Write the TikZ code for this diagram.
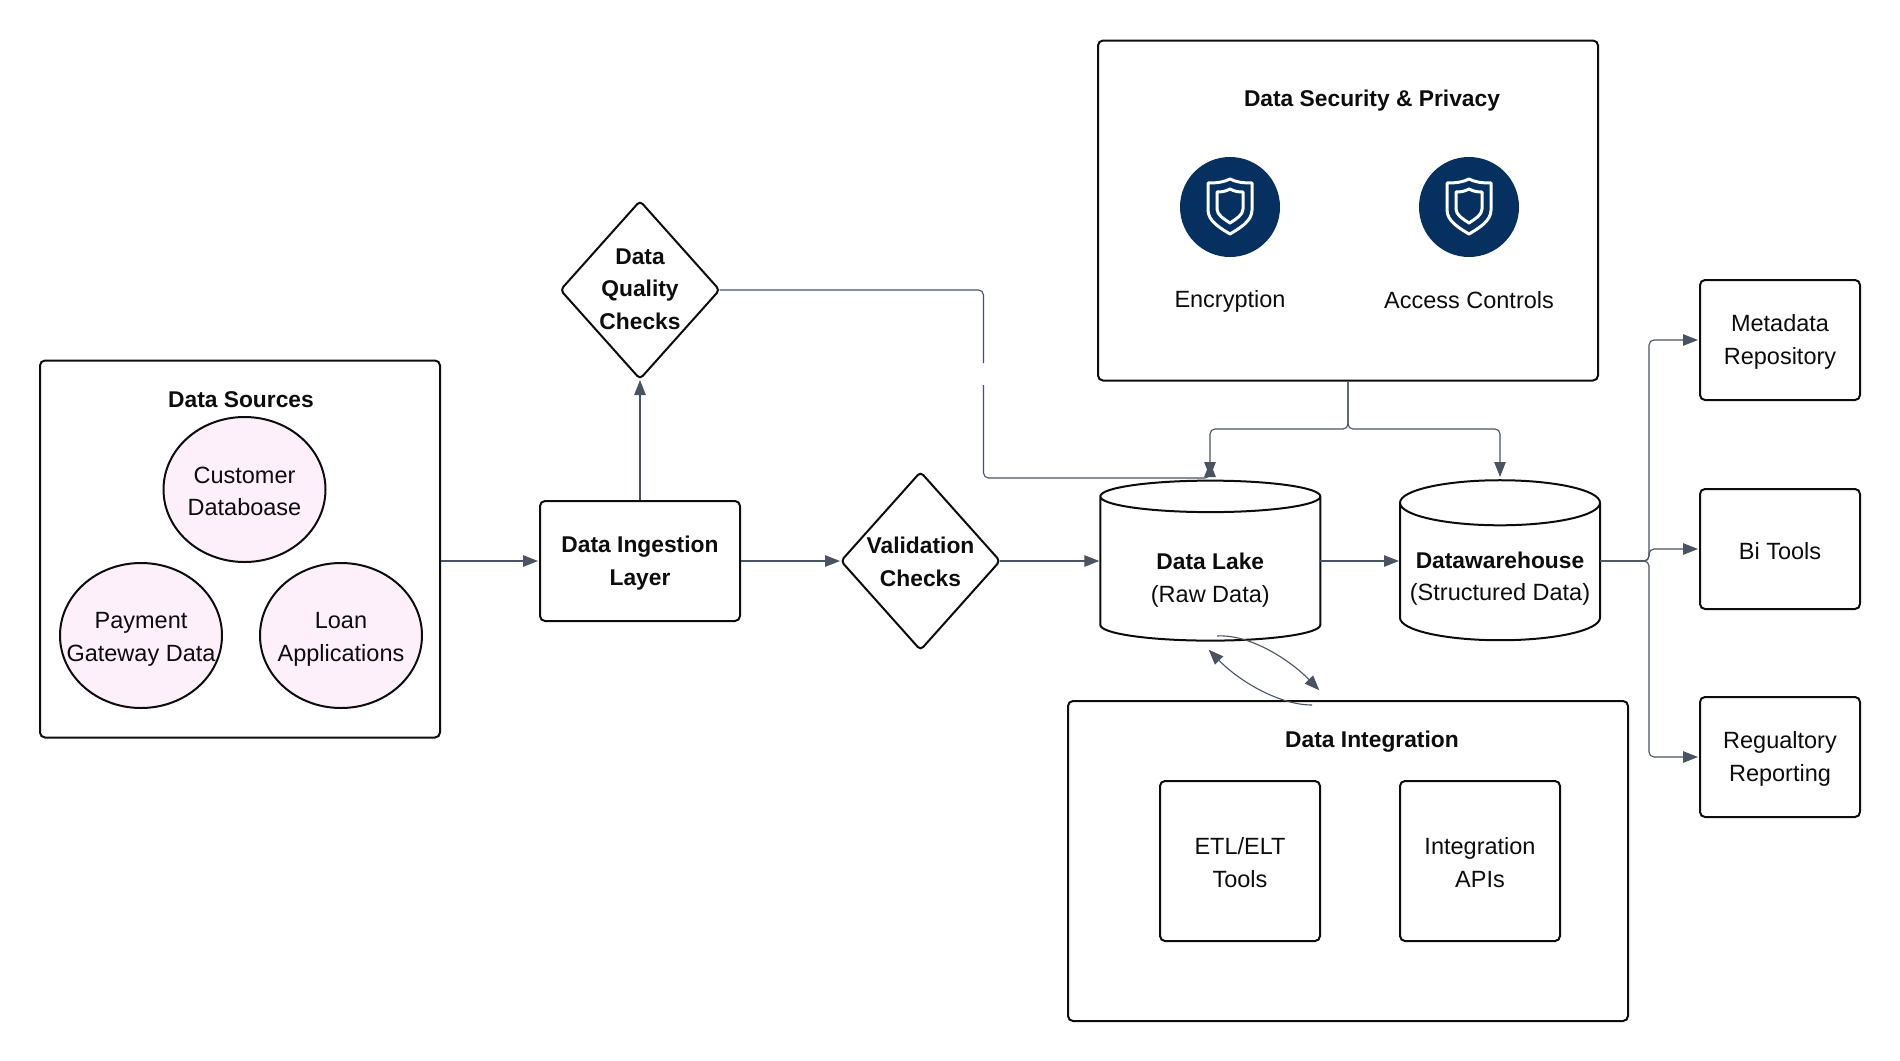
\documentclass[tikz,border=0pt]{standalone}
\usepackage{fontspec}
\setmainfont{Liberation Sans}
\usetikzlibrary{shapes.geometric,arrows.meta}
\definecolor{linkgray}{HTML}{4A5361}
\definecolor{shieldblue}{HTML}{05305F}
\definecolor{sourcepink}{HTML}{FDF0FA}
\newcommand\boldtext{\fontsize{22.8}{32.5}\selectfont\bfseries}
\tikzset{
  every node/.style={font=\fontsize{23.5}{32.5}\selectfont,align=center,text=black!95},
  boxed/.style={draw=black!95,line width=2pt,rectangle,rounded corners=5pt,inner sep=0pt,text height=53pt},
  source/.style={draw=black!95,line width=2pt,ellipse,fill=sourcepink,minimum width=162pt,minimum height=145pt,inner sep=0pt},
  check/.style={draw=black!95,line width=2pt,diamond,rounded corners=4pt,minimum width=159pt,minimum height=178pt,inner sep=0pt,outer sep=0pt},
  store/.style={draw=black!95,line width=2pt,cylinder,shape border rotate=90,aspect=0.265,minimum height=160pt,inner sep=0pt,outer sep=0pt},
  title/.style={font=\boldtext},
  badge/.style={circle,fill=shieldblue,minimum size=100pt,inner sep=0pt},
  link/.style={draw=linkgray,line width=1.1pt,rounded corners=5pt,-{Triangle[length=15pt,width=11.5pt]},shorten >=1pt},
  shieldicon/.pic={
    \draw[white,line width=3pt,line join=round]
      (-22,-24) .. controls (-12,-24) and (-6,-25) .. (0,-28) .. controls (6,-25) and (12,-24) .. (22,-24)
      -- (22,3) .. controls (22,14) and (10,21) .. (0,27) .. controls (-10,21) and (-22,14) .. (-22,3) -- cycle;
    \draw[white,line width=3pt,line join=round]
      (-13,-15) .. controls (-7,-15) and (-4,-16) .. (0,-18) .. controls (4,-16) and (7,-15) .. (13,-15)
      -- (13,2) .. controls (13,8) and (6,12) .. (0,16) .. controls (-6,12) and (-13,8) .. (-13,2) -- cycle;
  }
}
\begin{document}
\begin{tikzpicture}[x=1pt,y=-1pt]
  \useasboundingbox (0,0) rectangle (1900,1060);
  \draw
    (240,549) node[boxed,minimum width=400pt,minimum height=377pt] (sources){}
    (241,400) node[title] (sourcestitle){Data Sources}
    (244.5,489.5) node[source,label={[yshift=-2pt]center:Customer\\Databoase}] (customer){}
    (141,635.5) node[source,label={[yshift=-4pt]center:Payment\\Gateway Data}] (payment){}
    (341,635.5) node[source,label={[yshift=-4pt]center:Loan\\Applications}] (loan){}
    (640,561) node[boxed,minimum width=200pt,minimum height=120pt,font=\boldtext] (ingest){Data Ingestion\\Layer}
    (640,290) node[check,label={[title,yshift=1pt]center:Data\\Quality\\Checks}] (quality){}
    (920.5,561) node[check,label={[title,yshift=-1pt]center:Validation\\Checks}] (valid){}
    (1210.3,569) node[store,minimum width=220pt,text height=71pt] (lake){{\boldtext Data Lake}\\(Raw Data)}
    (1500,572) node[store,minimum width=200pt,aspect=0.25,text height=62pt] (ware){{\boldtext Datawarehouse}\\(Structured Data)}
    (1348,210.5) node[boxed,minimum width=500pt,minimum height=340pt] (security){}
    (1372,101) node[title] (securitytitle){Data Security \& Privacy}
    (1230,207) node[badge] (encbadge){}
    (1469,207) node[badge] (accbadge){}
    (1230,301) node (encryption){Encryption}
    (1469,300) node (access){Access Controls}
    (1348,861) node[boxed,minimum width=560pt,minimum height=320pt] (integration){}
    (1372,742) node[title] (integrationtitle){Data Integration}
    (1240,861) node[boxed,minimum width=160pt,minimum height=160pt] (etl){ETL/ELT\\Tools}
    (1480,861) node[boxed,minimum width=160pt,minimum height=160pt] (apis){Integration\\APIs}
    (1780,340) node[boxed,minimum width=160pt,minimum height=120pt] (meta){Metadata\\Repository}
    (1780,549) node[boxed,minimum width=160pt,minimum height=120pt,text height=21pt] (bi){Bi Tools}
    (1780,757) node[boxed,minimum width=160pt,minimum height=120pt] (regulatory){Regualtory\\Reporting};
  \pic at (encbadge) {shieldicon};
  \pic at (accbadge) {shieldicon};
  \coordinate (sechub) at (1348,429);
  \coordinate (hub) at (1649,561);
  \coordinate (lakein) at (1210,478);
  \coordinate (warein) at (1500,478);
  \coordinate (lakeup) at (1210,461);
  \coordinate (gaptop) at (983.5,363);
  \coordinate (gapbot) at (983.5,385);
  \coordinate (lakecorner) at (1210,478);
  \coordinate (lakeout) at (1217,636);
  \coordinate (intin) at (1320,691);
  \coordinate (intout) at (1312,705);
  \coordinate (lakeback) at (1208,649);
  \begin{scope}[link]
    \draw (sources.east |- ingest.west) to (ingest.west);
    \draw (ingest.north) to (quality.south);
    \draw (ingest.east) to (valid.west);
    \draw (valid.east) to (lake.west |- valid.east);
    \draw (lake.east |- valid.east) to (ware.west |- valid.east);
    \draw (gapbot) |- (lakecorner) -- (lakeup);
    \draw (security.south) -- (sechub) -| (lakein);
    \draw (security.south) -- (sechub) -| (warein);
    \draw (ware.east |- hub) -- (hub) |- (meta.west);
    \draw (ware.east |- hub) -- (hub) |- (bi.west);
    \draw (ware.east |- hub) -- (hub) |- (regulatory.west);
    \draw (lakeout) .. controls (1250,634) and (1290,660) .. (intin);
    \draw (intout) .. controls (1280,705) and (1240,682) .. (lakeback);
  \end{scope}
  \draw[draw=linkgray,line width=1.1pt,rounded corners=5pt] (quality.east) -| (gaptop);
\end{tikzpicture}
\end{document}
